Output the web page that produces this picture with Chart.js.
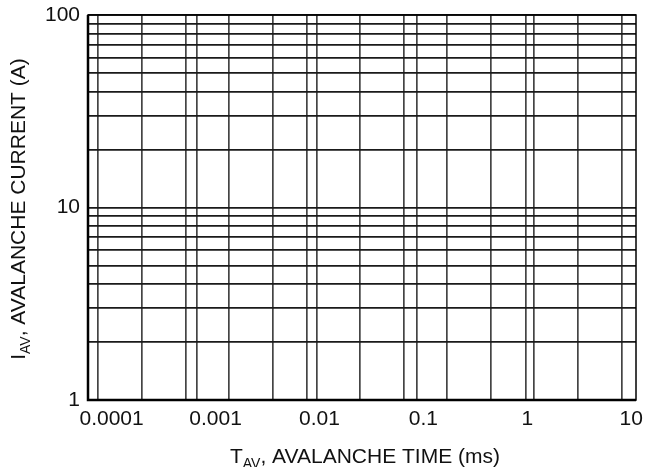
<!DOCTYPE html>
<html>
<head>
<meta charset="utf-8">
<script src="https://cdn.jsdelivr.net/npm/chart.js@4"></script>
<style>
  html, body { margin: 0; padding: 0; background: #fff; }
  #wrap { width: 653px; height: 467px; }
</style>
</head>
<body>
<div id="wrap"><canvas id="grafico" width="653" height="467"></canvas></div>
<script>
// tick labels on the time axis (ms)
var xTickValues = [0.0001, 0.001, 0.01, 0.1, 1, 10];
var xTickLabels = ['0.0001', '0.001', '0.01', '0.1', '1', '10'];
// vertical grid lines (ms)
var xGridValues = [7.4e-5, 1.96e-4, 5.2e-4, 6.6e-4, 1.35e-3, 3.57e-3, 7.6e-3, 9.5e-3,
                   0.0246, 0.0652, 0.0869, 0.169, 0.449, 0.972, 1.16, 3.08, 8.17];
var xMin = 5.93e-5;
var xMax = 11.1;

// current axis (A)
var yTickValues = [1, 10, 100];
var yTickLabels = ['1', '10', '100'];
var yGridValues = [1, 2, 3, 4, 5, 6, 7, 8, 9, 10, 20, 30, 40, 50, 60, 70, 80, 90, 100];

// no curves on this chart
var avalancheData = [];

var fonte = '"Liberation Sans", Arial, sans-serif';

function ehIgual(a, b) {
    return Math.abs(a - b) / b < 1e-6;
}

function labelDe(valores, labels, v) {
    for (var i in valores) {
        if (ehIgual(valores[i], v)) return labels[i];
    }
    return '';
}

function ehGrade(valores, v) {
    for (var i in valores) {
        if (ehIgual(valores[i], v)) return true;
    }
    return false;
}

// axis titles with subscripts, plus the frame
const molduraPlugin = {
    id: 'moldura',
    afterDraw(chart) {
        const ctx = chart.ctx;
        const a = chart.chartArea;
        ctx.save();
        ctx.strokeStyle = '#000';
        ctx.lineWidth = 1.5;
        ctx.strokeRect(a.left, a.top, a.right - a.left, a.bottom - a.top);
        ctx.lineWidth = 2.5;
        ctx.beginPath();
        ctx.moveTo(a.left, a.top);
        ctx.lineTo(a.left, a.bottom);
        ctx.lineTo(a.right, a.bottom);
        ctx.stroke();

        ctx.fillStyle = '#111';
        ctx.textBaseline = 'alphabetic';
        desenhaTitulo(ctx, 'T', 'AV', ', AVALANCHE TIME (ms)', 365, 463, 0);
        desenhaTitulo(ctx, 'I', 'AV', ', AVALANCHE CURRENT (A)', 25, 209, -Math.PI / 2);
        ctx.restore();
    }
};

function desenhaTitulo(ctx, ini, sub, resto, cx, cy, ang) {
    const fGrande = '21px ' + fonte;
    const fPeq = '14px ' + fonte;
    ctx.save();
    ctx.translate(cx, cy);
    ctx.rotate(ang);
    ctx.font = fGrande;
    const w1 = ctx.measureText(ini).width;
    const w3 = ctx.measureText(resto).width;
    ctx.font = fPeq;
    const w2 = ctx.measureText(sub).width;
    let x = -(w1 + w2 + w3) / 2;
    ctx.textAlign = 'left';
    ctx.font = fGrande;
    ctx.fillText(ini, x, 0);
    x += w1;
    ctx.font = fPeq;
    ctx.fillText(sub, x, 5);
    x += w2;
    ctx.font = fGrande;
    ctx.fillText(resto, x, 0);
    ctx.restore();
}

const campo = document.getElementById('grafico');

new Chart(campo, {
    type: 'scatter',
    data: {
        datasets: [
            {
                label: 'Avalanche',
                data: avalancheData,
                borderColor: '#000',
                showLine: true
            }
        ]
    },
    options: {
        responsive: false,
        animation: false,
        layout: { padding: { left: 0, right: 17, top: 15, bottom: 0 } },
        plugins: {
            legend: { display: false },
            tooltip: { enabled: false }
        },
        scales: {
            x: {
                type: 'logarithmic',
                min: xMin,
                max: xMax,
                afterBuildTicks: function(scale) {
                    scale.ticks = xTickValues.concat(xGridValues).map(function(v) { return { value: v }; });
                },
                afterFit: function(scale) {
                    scale.height = 67;
                    scale.paddingLeft = 0;
                    scale.paddingRight = 0;
                },
                border: { display: false },
                grid: {
                    drawTicks: false,
                    lineWidth: 1.7,
                    color: function(c) {
                        return c.tick && ehGrade(xGridValues, c.tick.value) ? '#444' : 'rgba(0,0,0,0)';
                    }
                },
                ticks: {
                    autoSkip: false,
                    maxRotation: 0,
                    padding: 7,
                    color: '#111',
                    font: { family: fonte, size: 21 },
                    callback: function(v) { return labelDe(xTickValues, xTickLabels, v); }
                }
            },
            y: {
                type: 'logarithmic',
                min: 1,
                max: 100,
                afterBuildTicks: function(scale) {
                    scale.ticks = yGridValues.map(function(v) { return { value: v }; });
                },
                afterFit: function(scale) {
                    scale.width = 88;
                    scale.paddingTop = 0;
                    scale.paddingBottom = 0;
                },
                border: { display: false },
                grid: {
                    drawTicks: false,
                    lineWidth: 1.7,
                    color: '#1a1a1a'
                },
                ticks: {
                    autoSkip: false,
                    padding: 8,
                    color: '#111',
                    font: { family: fonte, size: 21 },
                    callback: function(v) { return labelDe(yTickValues, yTickLabels, v); }
                }
            }
        }
    },
    plugins: [molduraPlugin]
});
</script>
</body>
</html>
